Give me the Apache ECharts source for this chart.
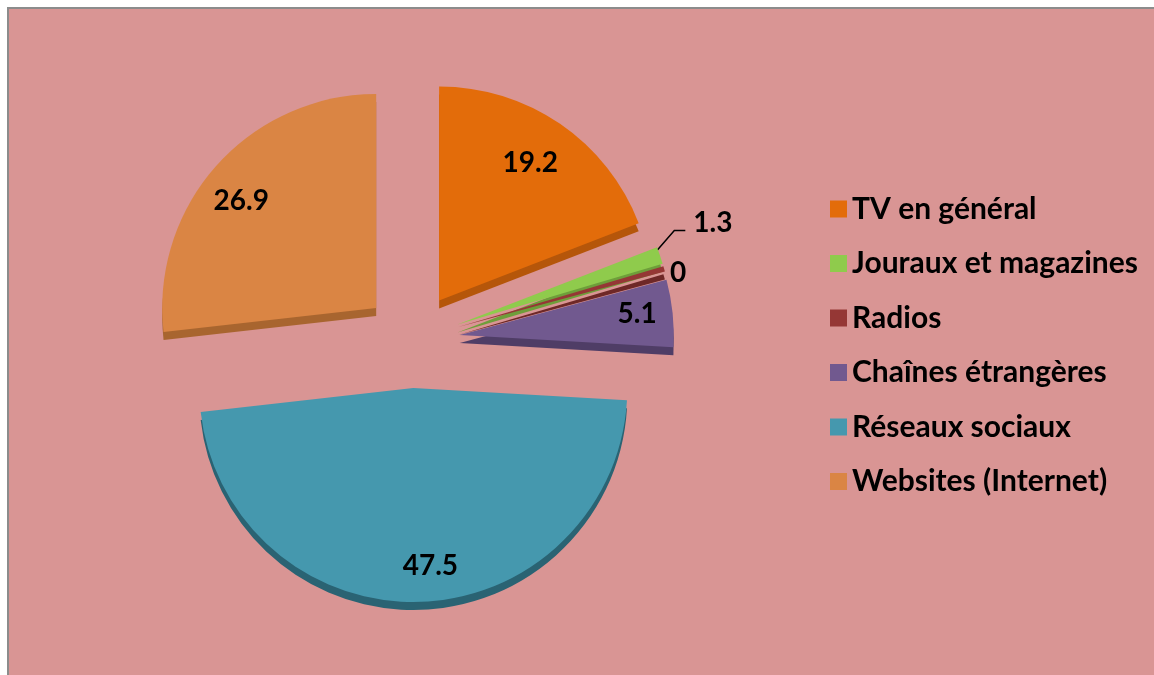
<!DOCTYPE html>
<html>
<head>
<meta charset="utf-8">
<script src="https://cdn.jsdelivr.net/npm/echarts@6/dist/echarts.min.js"></script>
<style>
html,body{margin:0;padding:0;background:#ffffff;width:1154px;height:675px;overflow:hidden;}
#frame{position:absolute;left:7px;top:7px;width:1160px;height:680px;background:#D99594;border-left:2px solid #8C8C8C;border-top:2px solid #8C8C8C;}
#chart{position:absolute;left:0;top:0;width:1154px;height:675px;}
</style>
</head>
<body>
<div id="frame"></div>
<div id="chart"></div>
<script>
const categories = ['TV en général','Jouraux et magazines','Radios','Chaînes étrangères','Réseaux sociaux','Websites (Internet)'];
const values = [19.2, 1.3, 0, 5.1, 47.5, 26.9];
const colors = ['#E36C0A','#8FCB4C','#953735','#71598F','#4598AE','#DA8544'];
const sideColors = ['#B5560A','#6E9E3A','#6E2827','#4F3D66','#2A6373','#A8652F'];
const labelShifts = [[29,-47],[7,-29],[114,-24],[68,-10],[14,68],[-53,-34]];

const chart = echarts.init(document.getElementById('chart'));
const data = categories.map((name, i) => {
  const item = {
    name: name,
    value: values[i],
    selected: true,
    itemStyle: {color: colors[i], shadowColor: sideColors[i], shadowOffsetY: 8, shadowBlur: 0},
    label: {position: 'inside'},
    labelLine: {show: false}
  };
  if (i === 1) {
    item.label = {position: 'outside'};
    item.labelLine = {show: true, length: 12, length2: 10, lineStyle: {color: '#000', width: 1.5}};
  }
  return item;
});

chart.setOption({
  animation: false,
  backgroundColor: 'transparent',
  legend: {
    orient: 'vertical',
    left: 825,
    top: 189,
    icon: 'rect',
    itemWidth: 17,
    itemHeight: 17,
    itemGap: 24.5,
    selectedMode: false,
    textStyle: {fontFamily: 'Lato', fontWeight: 'bold', fontSize: 30, color: '#000', lineHeight: 30}
  },
  series: [{
    type: 'pie',
    center: [412, 340],
    radius: 214,
    startAngle: 90,
    clockwise: true,
    minAngle: 1.5,
    selectedMode: 'multiple',
    selectedOffset: 48,
    avoidLabelOverlap: false,
    emphasis: {disabled: true},
    label: {
      show: true,
      formatter: '{c}',
      fontFamily: 'Lato',
      fontWeight: 'bold',
      fontSize: 28,
      color: '#000'
    },
    labelLayout: function (p) {
      const s = labelShifts[p.dataIndex];
      const out = {dx: s[0], dy: s[1]};
      if (p.labelLinePoints && p.labelLinePoints.length) {
        const p0 = p.labelLinePoints[0];
        const lx = p.labelRect.x + s[0];
        const cy = p.labelRect.y + p.labelRect.height / 2 + s[1];
        out.labelLinePoints = [[p0[0] - 3, p0[1] - 5], [lx - 19, cy + 8], [lx - 8, cy + 8]];
      }
      return out;
    },
    data: data
  }]
});
</script>
</body>
</html>
